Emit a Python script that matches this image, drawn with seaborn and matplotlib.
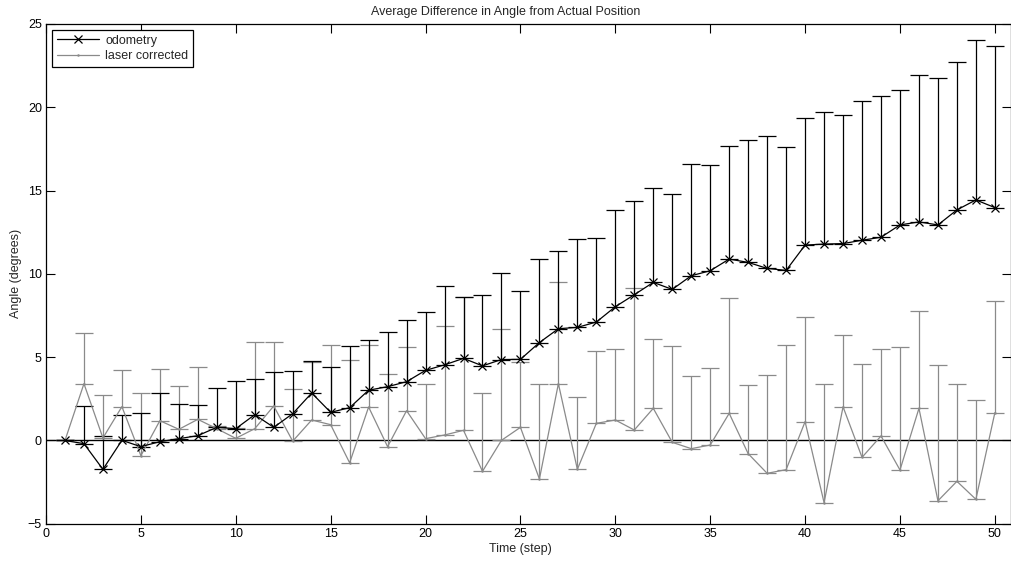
import numpy as np
import pandas as pd
import matplotlib
matplotlib.use("Agg")
import matplotlib.pyplot as plt
import seaborn as sns

# ---- data ----
steps = list(range(1, 51))

odometry = [0.00, -0.19, -1.73, 0.01, -0.37, -0.07, 0.11, 0.29, 0.79, 0.71,
            1.55, 0.79, 1.61, 2.85, 1.69, 1.97, 3.02, 3.23, 3.53, 4.21,
            4.54, 4.93, 4.48, 4.86, 4.87, 5.88, 6.71, 6.79, 7.11, 8.03,
            8.75, 9.49, 9.07, 9.89, 10.19, 10.89, 10.69, 10.33, 10.21, 11.73,
            11.79, 11.82, 12.02, 12.20, 12.94, 13.12, 12.94, 13.84, 14.44, 13.98]

odometry_top = [0.00, 2.09, 0.25, 1.55, 1.63, 2.83, 2.19, 2.15, 3.15, 3.59,
                3.67, 4.09, 4.16, 4.80, 4.39, 5.66, 6.06, 6.51, 7.21, 7.74,
                9.25, 8.62, 8.74, 10.04, 8.99, 10.92, 11.37, 12.07, 12.13, 13.85,
                14.36, 15.17, 14.78, 16.59, 16.52, 17.70, 18.06, 18.26, 17.64, 19.36,
                19.70, 19.52, 20.36, 20.70, 21.04, 21.92, 21.76, 22.70, 24.06, 23.70]

laser = [0.00, 3.41, 0.15, 2.03, -0.91, 1.19, 0.67, 1.27, 0.71, 0.13,
         0.71, 2.07, -0.04, 1.23, 0.95, -1.34, 2.01, -0.37, 1.79, 0.11,
         0.33, 0.61, -1.85, 0.01, 0.79, -2.31, 3.41, -1.73, 1.03, 1.23,
         0.63, 1.93, -0.11, -0.49, -0.27, 1.63, -0.79, -1.97, -1.75, 1.13,
         -3.73, 2.02, -1.01, 0.27, -1.77, 1.93, -3.62, -2.45, -3.53, 1.67]

laser_top = [0.00, 6.43, 2.73, 4.25, 2.83, 4.27, 3.25, 4.41, 0.90, 0.75,
             5.89, 5.93, 3.12, 4.70, 5.71, 4.81, 5.73, 3.97, 5.61, 3.37,
             6.86, 8.60, 2.88, 6.71, 4.69, 3.37, 9.53, 2.63, 5.39, 5.49,
             9.13, 6.07, 5.65, 3.90, 4.33, 8.57, 3.35, 3.95, 5.71, 7.39,
             3.38, 6.33, 4.61, 5.49, 5.63, 7.79, 4.51, 3.39, 2.45, 8.37]

x_ticks = [0, 5, 10, 15, 20, 25, 30, 35, 40, 45, 50]
y_ticks = [-5, 0, 5, 10, 15, 20, 25]

title = "Average Difference in Angle from Actual Position"
x_label = "Time (step)"
y_label = "Angle (degrees)"

# ---- figure ----
sns.set_theme(style="white")
plt.rcParams["font.family"] = ["Liberation Sans", "DejaVu Sans"]

df = pd.DataFrame({"step": steps, "odometry": odometry, "odometry_top": odometry_top,
                   "laser": laser, "laser_top": laser_top})

fig = plt.figure(figsize=(10.12, 5.61), dpi=100)
ax = fig.add_axes([46 / 1012, (561 - 523.8) / 561, 965 / 1012, 499.8 / 561])

black = "#000000"
gray = "#8a8a8a"

odo_err = np.array(df["odometry_top"]) - np.array(df["odometry"])
las_err = np.array(df["laser_top"]) - np.array(df["laser"])
zeros = np.zeros(len(df))

ax.axhline(0, color="black", lw=1.0, zorder=1)

ax.errorbar(df["step"], df["laser"], yerr=[zeros, las_err], fmt="none",
            ecolor=gray, elinewidth=0.9, capsize=6.5, capthick=0.9, zorder=2)
ax.errorbar(df["step"], df["odometry"], yerr=[zeros, odo_err], fmt="none",
            ecolor=black, elinewidth=0.9, capsize=6.5, capthick=0.9, zorder=3)

sns.lineplot(data=df, x="step", y="odometry", ax=ax, color=black, lw=0.9,
             marker="x", markersize=5.5, markeredgewidth=0.9, markeredgecolor=black,
             label="odometry", zorder=5)
sns.lineplot(data=df, x="step", y="laser", ax=ax, color=gray, lw=0.9,
             marker="o", markersize=1.8, markeredgewidth=0, markerfacecolor=gray,
             label="laser corrected", zorder=4)

ax.set_xlim(0, 50.85)
ax.set_ylim(-5, 25)
ax.set_xticks(x_ticks)
ax.set_yticks(y_ticks)
ax.tick_params(direction="in", length=6.5, width=0.8, colors="black",
               labelsize=9, top=True, right=True, bottom=True, left=True,
               labeltop=False, labelright=False, pad=3)
for s in ax.spines.values():
    s.set_color("black")
    s.set_linewidth(0.9)

fig.text(506 / 1012, 1 - 12.5 / 561, title, fontsize=9, ha="center", va="center")
ax.set_xlabel(x_label, fontsize=9, labelpad=2)
ax.xaxis.label.set_position(((520 - 46) / 965, 0))
ax.set_ylabel(y_label, fontsize=9, labelpad=4)

leg = ax.legend(loc="upper left", fontsize=9, frameon=True, fancybox=False,
                edgecolor="black", framealpha=1, handlelength=3.4,
                borderaxespad=0.5, borderpad=0.35, labelspacing=0.3,
                handletextpad=0.5)
leg.get_frame().set_linewidth(0.9)

fig.savefig("out.png", dpi=100)
